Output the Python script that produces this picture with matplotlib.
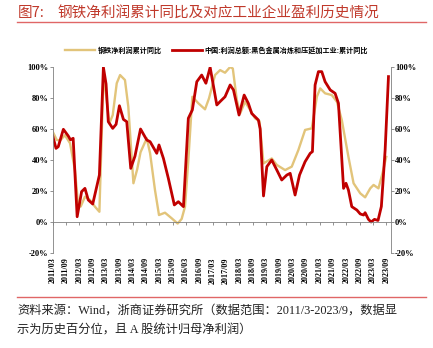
import matplotlib
matplotlib.use('Agg')
import matplotlib.pyplot as plt
from matplotlib.lines import Line2D

plt.rcParams['font.family'] = ['Noto Sans CJK SC', 'DejaVu Sans']

# month index counted from 2011/03
gold_months = [0, 1.8, 3.3, 5.5, 7.8, 10, 11.5, 12.6, 14.5, 16.8, 19, 21,
               22.8, 23.5, 25.5, 27, 28.8, 30.3, 32.5, 34, 36.3, 38, 39.5,
               42.3, 43.8, 46, 47.8, 50.5, 53.5, 56.2, 58, 59.5, 61, 62.8,
               65.5, 68.5, 70.3, 73, 75.3, 77.5, 79.8, 81, 82.8, 84.3, 86.5,
               88.8, 91, 93, 94.8, 98.5, 100.8, 104.5, 107.5, 110.5, 113.5,
               116.5, 118.8, 120.3, 122.5, 125.5, 127.8, 130, 133, 135.3,
               138.3, 140.5, 142.8, 144.3, 146.5, 148.3, 150]
gold_values = [58.3, 53, 52.5, 56, 50.8, 33.5, 10, 10, 16.3, 14.2, 9.9, 6.6,
               92, 88, 63.7, 69, 89.5, 94.8, 91.6, 74.4, 25, 34, 45,
               54, 44.3, 20.6, 4.5, 6, 2.4, -1, 2, 9.9, 40, 80.8,
               76.6, 72.7, 79.8, 94.8, 98, 96.3, 100, 99, 78.7, 70, 77.6,
               72.3, 66.9, 65, 37.8, 41, 36.8, 33.5, 35.7, 46.5, 59.4,
               60.4, 80.8, 86.2, 83, 81.9, 77.6, 65.8, 42, 25,
               18.5, 15.9, 21.7, 23.9, 21.7, 31.4, 42]

red_months = [0, 1.5, 2.5, 4.8, 7, 8, 9.2, 11, 13, 14.5, 16, 18, 19.8, 21,
              22.8, 24, 25, 27, 28.5, 30, 31.8, 33.3, 35.1, 37, 39.5, 42.3,
              43.8, 46.8, 47.8, 49.8, 52, 54.7, 56.5, 58.8, 61, 62.8, 64.8,
              67, 68.9, 70.8, 73.8, 75.5, 77.5, 79.8, 81.3, 83.8, 86.1, 88,
              89.5, 92.5, 93.3, 94.8, 96.3, 98.5, 100.8, 103, 105.3, 106.8,
              109, 111, 113.5, 115.8, 116.8, 118, 119.5, 121, 122.5, 124.8,
              127, 128.5, 130.8, 131.9, 133, 134.5, 136.8, 138.3, 139.8,
              140.5, 142, 143.2, 144.7, 146.3, 147.8, 149.5, 151]
red_values = [55.5, 47.5, 48.6, 59.8, 55.5, 53, 54, 3.4, 19.6, 21.7, 14.2,
              11.6, 22.8, 30.3, 99.8, 89, 64.7, 60.4, 63, 75, 66.2, 64.7,
              34.6, 42.5, 60, 52.9, 51.8, 44.3, 49.7, 41, 28.2, 11, 13.1,
              9.9, 66.9, 72.3, 90.5, 94.8, 89.5, 99.8, 75.5, 78, 80.8, 88.4,
              85.2, 69, 81.9, 76.5, 70, 65.8, 60, 16.8, 35.7, 40, 33.5, 27.1,
              30.3, 31.4, 17.4, 30.3, 38.9, 44.3, 45.4, 88.4, 97, 97, 90.5,
              85.2, 83, 76.6, 21.7, 25, 20.6, 9.9, 7.7, 5.2, 4.5, 6, 1.7, 0,
              1.7, 1, 10, 46.5, 93.8]

tick_labels = ['2011/03', '2011/09', '2012/03', '2012/09', '2013/03',
               '2013/09', '2014/03', '2014/09', '2015/03', '2015/09',
               '2016/03', '2016/09', '2017/03', '2017/09', '2018/03',
               '2018/09', '2019/03', '2019/09', '2020/03', '2020/09',
               '2021/03', '2021/09', '2022/03', '2022/09', '2023/03',
               '2023/09']
tick_pos = [6 * i for i in range(len(tick_labels))]
y_ticks = [-20, 0, 20, 40, 60, 80, 100]

gold = '#E2C47A'
red = '#C00000'
title_red = '#C0392B'
serif = ['Liberation Serif', 'Noto Sans CJK SC']

fig = plt.figure(figsize=(4.33, 3.48), dpi=100)
ax = fig.add_axes([0.1217, 0.273, 0.7806, 0.5345])

ax.plot(gold_months, gold_values, color=gold, lw=1.7, solid_joinstyle='round')
ax.plot(red_months, red_values, color=red, lw=2.0, solid_joinstyle='round')

ax.set_xlim(0, 152)
ax.set_ylim(-20, 100)

for s in ['left', 'right', 'bottom']:
    ax.spines[s].set_color('#808080')
    ax.spines[s].set_linewidth(0.6)
ax.spines['top'].set_visible(False)
ax.spines['bottom'].set_position(('data', 0))

ax.set_xticks(tick_pos)
ax.tick_params(axis='x', length=2, width=0.6, color='#808080',
               labelbottom=False)

ax.set_yticks(y_ticks)
ax.set_yticklabels([f'{v}%' for v in y_ticks], family=serif,
                   fontweight='bold', fontsize=6)
ax.tick_params(axis='y', length=2, width=0.6, color='#808080', pad=1,
               right=True, labelright=True)

sec = ax.secondary_xaxis('bottom')
sec.set_xticks(tick_pos)
sec.set_xticklabels(tick_labels, rotation=90, family=serif,
                    fontweight='bold', fontsize=5.8)
sec.tick_params(length=0, pad=3)
sec.spines['bottom'].set_visible(False)

handles = [Line2D([], [], color=gold, lw=1.7),
           Line2D([], [], color=red, lw=2.0)]
fig.legend(handles, ['钢铁净利润累计同比',
                     '中国:利润总额:黑色金属冶炼和压延加工业:累计同比'],
           loc='center', bbox_to_anchor=(0.5, 0.856), ncol=2, frameon=False,
           prop={'size': 5.1, 'weight': 'bold'}, handlelength=4.2,
           columnspacing=1.5, handletextpad=0.4)

fig.text(0.04, 0.962, '图7:', color=title_red, fontsize=10.5, va='center')
fig.text(0.132, 0.962, '钢铁净利润累计同比及对应工业企业盈利历史情况',
         color=title_red, fontsize=10.5, va='center')
fig.add_artist(Line2D([0.04, 0.984], [0.937, 0.937], color='#E06666',
                      lw=1.0, transform=fig.transFigure))
fig.add_artist(Line2D([0.04, 0.984], [0.147, 0.147], color='#E06666',
                      lw=1.0, transform=fig.transFigure))

fig.text(0.04, 0.108, '资料来源：Wind，浙商证券研究所（数据范围：2011/3-2023/9，数据显',
         family=serif, fontsize=8.8, va='center', color='#222222')
fig.text(0.04, 0.05, '示为历史百分位，且 A 股统计归母净利润）',
         family=serif, fontsize=8.8, va='center', color='#222222')

fig.savefig('out.png', dpi=100)
